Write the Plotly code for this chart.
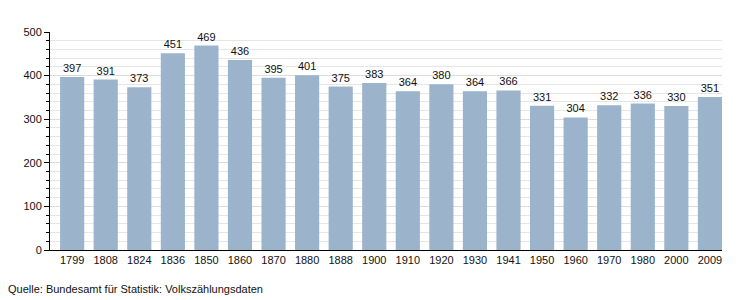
import plotly.graph_objects as go

years = ["1799", "1808", "1824", "1836", "1850", "1860", "1870", "1880", "1888", "1900",
         "1910", "1920", "1930", "1941", "1950", "1960", "1970", "1980", "2000", "2009"]
population = [397, 391, 373, 451, 469, 436, 395, 401, 375, 383,
              364, 380, 364, 366, 331, 304, 332, 336, 330, 351]
source_text = "Quelle: Bundesamt für Statistik: Volkszählungsdaten"

fig = go.Figure(go.Bar(
    x=years, y=population,
    marker=dict(color="#9bb4cc", line=dict(width=0)),
    text=[str(v) for v in population],
    textposition="outside",
    textfont=dict(family="Liberation Sans, Arial, sans-serif", size=11, color="#111"),
    cliponaxis=False,
))

fig.update_layout(
    width=750, height=300,
    margin=dict(l=50, r=28, t=32, b=50),
    paper_bgcolor="white", plot_bgcolor="white",
    bargap=0.28,
    showlegend=False,
    font=dict(family="Liberation Sans, Arial, sans-serif", size=11, color="#111"),
    xaxis=dict(
        type="category", range=[-0.66, 19.36],
        showline=True, linecolor="black", linewidth=1,
        ticks="", showgrid=False, tickfont=dict(size=11),
    ),
    yaxis=dict(
        range=[0, 500], dtick=100,
        showline=True, linecolor="black", linewidth=1,
        ticks="outside", ticklen=5, tickcolor="black",
        showgrid=True, gridcolor="#dcdcdc", gridwidth=1,
        minor=dict(dtick=20, ticks="outside", ticklen=3, tickcolor="black",
                   showgrid=True, gridcolor="#e6e6e6", gridwidth=1),
        zeroline=False, tickfont=dict(size=11),
    ),
    annotations=[dict(
        text=source_text, xref="paper", yref="paper",
        x=-44/672, y=-39/218, xanchor="left", yanchor="middle",
        showarrow=False, font=dict(size=11, color="#111"),
    )],
)

fig.write_html("out.html")
